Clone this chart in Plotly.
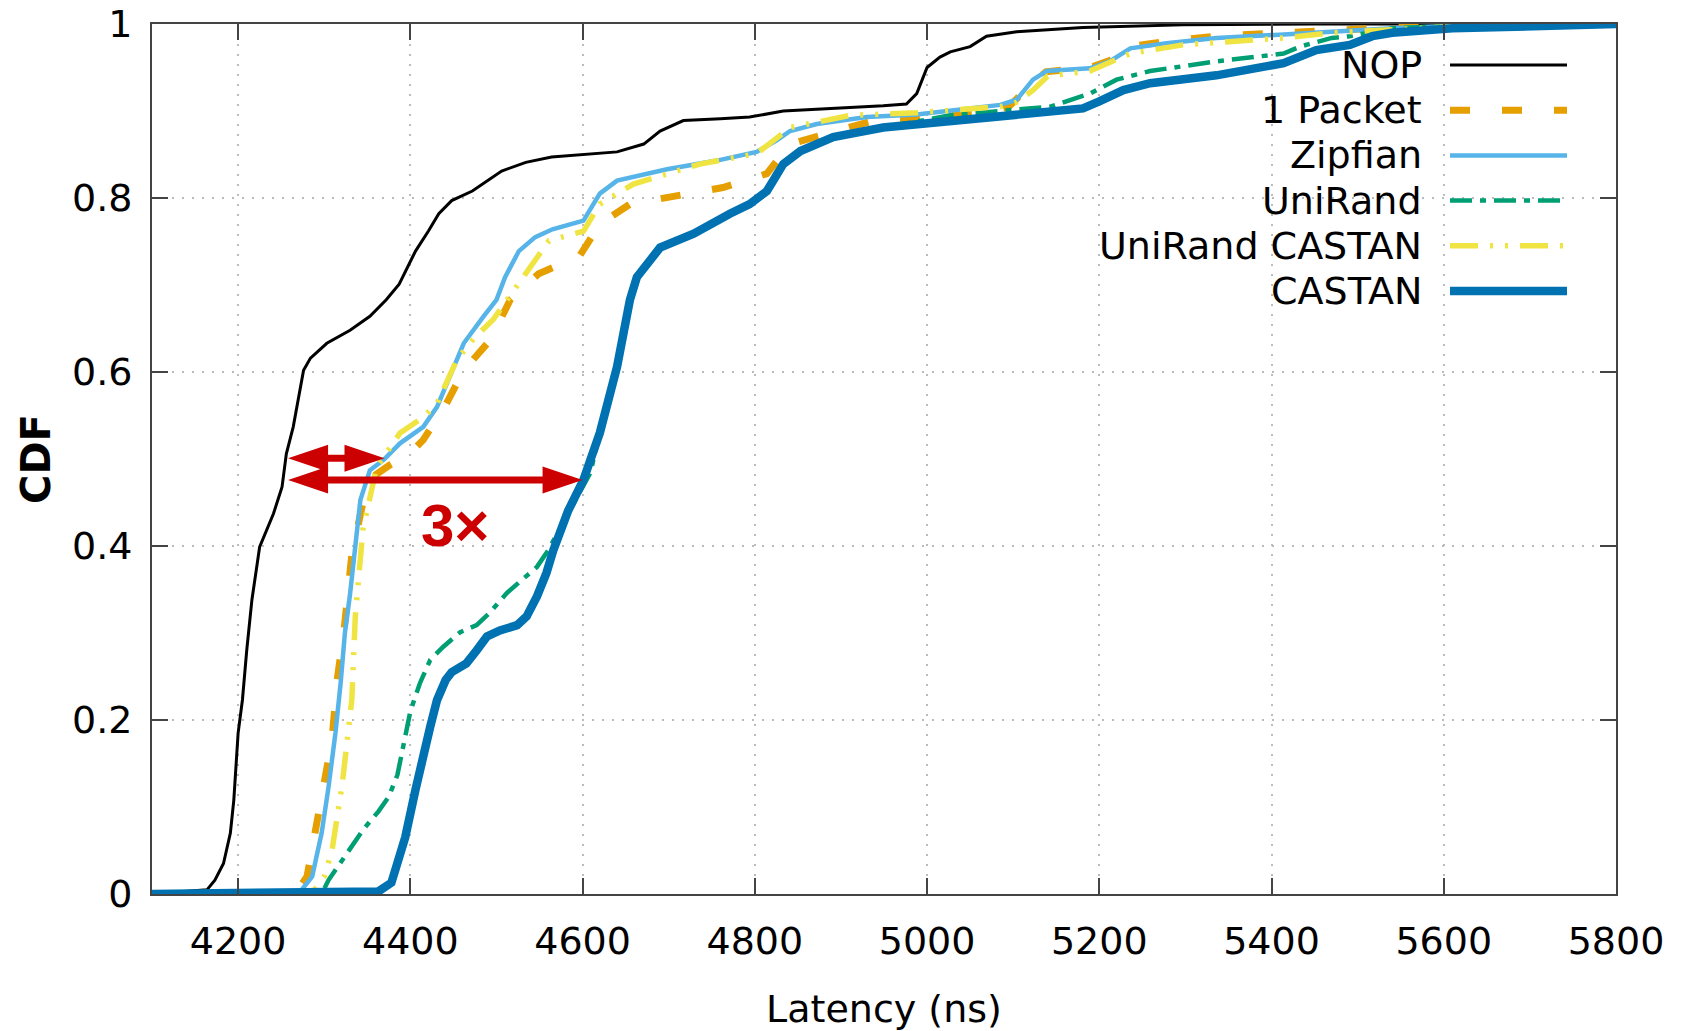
import plotly.graph_objects as go

# ---------------- data ----------------
series_names = ["NOP", "1 Packet", "Zipfian", "UniRand", "UniRand CASTAN", "CASTAN"]

nop_x = [4100, 4164, 4173, 4183, 4191, 4195, 4200, 4205, 4210, 4216, 4225, 4241, 4251, 4256,
         4264, 4272, 4276, 4284, 4303, 4330, 4353, 4372, 4387, 4406, 4421, 4433, 4448, 4472,
         4506, 4534, 4564, 4640, 4671, 4690, 4717, 4760, 4794, 4833, 4900, 4949, 4976, 4988,
         5000, 5015, 5027, 5050, 5069, 5104, 5181, 5297, 5450, 5800]
nop_y = [0, 0.005, 0.016, 0.035, 0.07, 0.108, 0.185, 0.223, 0.28, 0.338, 0.399, 0.437, 0.468, 0.506,
         0.537, 0.583, 0.602, 0.616, 0.633, 0.648, 0.664, 0.683, 0.701, 0.739, 0.762, 0.782, 0.797, 0.808,
         0.831, 0.841, 0.847, 0.853, 0.862, 0.877, 0.889, 0.891, 0.893, 0.900, 0.903, 0.906, 0.908, 0.92,
         0.95, 0.962, 0.968, 0.974, 0.986, 0.991, 0.996, 0.999, 1.0, 1.0]

pkt_x = [4100, 4266, 4280, 4295, 4309, 4315, 4323, 4332, 4345, 4360, 4376, 4398, 4415, 4442,
         4462, 4493, 4516, 4549, 4570, 4593, 4620, 4655, 4709, 4763, 4814, 4841, 4891, 4938,
         5007, 5060, 5095, 5115, 5138, 5189, 5212, 5236, 5278, 5336, 5414, 5491, 5540, 5610, 5800]
pkt_y = [0, 0, 0.02, 0.10, 0.177, 0.246, 0.303, 0.39, 0.45, 0.482, 0.493, 0.505, 0.522, 0.564,
         0.602, 0.637, 0.683, 0.713, 0.722, 0.728, 0.77, 0.793, 0.803, 0.812, 0.828, 0.862, 0.876, 0.889,
         0.893, 0.897, 0.905, 0.925, 0.945, 0.95, 0.958, 0.974, 0.98, 0.986, 0.99, 0.994, 0.996, 0.998, 1.0]

zipf_x = [4100, 4270, 4286, 4297, 4305, 4313, 4319, 4324, 4330, 4342, 4353, 4369, 4388, 4415,
          4431, 4446, 4462, 4485, 4500, 4510, 4526, 4545, 4565, 4601, 4620, 4640, 4698, 4756,
          4802, 4825, 4841, 4872, 4930, 4988, 5027, 5085, 5104, 5123, 5139, 5189, 5212, 5236,
          5278, 5336, 5414, 5491, 5540, 5610, 5800]
zipf_y = [0, 0, 0.02, 0.07, 0.123, 0.185, 0.242, 0.30, 0.345, 0.453, 0.487, 0.499, 0.518, 0.537,
          0.56, 0.595, 0.633, 0.664, 0.683, 0.709, 0.739, 0.755, 0.764, 0.774, 0.805, 0.82, 0.833, 0.843,
          0.853, 0.866, 0.877, 0.885, 0.893, 0.896, 0.90, 0.907, 0.913, 0.936, 0.946, 0.949, 0.957, 0.972,
          0.978, 0.984, 0.988, 0.993, 0.995, 0.998, 1.0]

uni_x = [4100, 4297, 4305, 4321, 4332, 4346, 4363, 4375, 4385, 4392, 4400, 4411, 4423, 4438,
         4458, 4477, 4492, 4512, 4531, 4547, 4560, 4585, 4609, 4620, 4640, 4655, 4663, 4690,
         4729, 4771, 4794, 4814, 4833, 4853, 4891, 4949, 5027, 5143, 5189, 5220, 5259, 5336,
         5414, 5433, 5470, 5491, 5540, 5610, 5800]
uni_y = [0, 0, 0.016, 0.039, 0.054, 0.075, 0.095, 0.112, 0.137, 0.17, 0.21, 0.242, 0.269, 0.284,
         0.301, 0.309, 0.323, 0.346, 0.363, 0.376, 0.395, 0.44, 0.484, 0.53, 0.606, 0.683, 0.709, 0.743,
         0.759, 0.782, 0.793, 0.808, 0.839, 0.854, 0.87, 0.881, 0.895, 0.905, 0.92, 0.936, 0.946, 0.957,
         0.966, 0.974, 0.984, 0.986, 0.995, 0.998, 1.0]

unic_x = [4100, 4285, 4300, 4309, 4321, 4332, 4336, 4345, 4361, 4388, 4415, 4431, 4454, 4475,
          4496, 4526, 4561, 4601, 4620, 4659, 4736, 4802, 4841, 4911, 4988, 5085, 5104, 5123,
          5140, 5189, 5212, 5236, 5297, 5414, 5472, 5540, 5610, 5800]
unic_y = [0, 0, 0.02, 0.05, 0.127, 0.223, 0.318, 0.42, 0.491, 0.53, 0.548, 0.564, 0.614, 0.64,
          0.66, 0.701, 0.751, 0.762, 0.793, 0.816, 0.839, 0.851, 0.881, 0.895, 0.898, 0.905, 0.91, 0.924,
          0.94, 0.946, 0.955, 0.966, 0.976, 0.984, 0.99, 0.994, 0.997, 1.0]

castan_x = [4100, 4363, 4378, 4394, 4406, 4416, 4423, 4431, 4441, 4448, 4465, 4477, 4489, 4504,
            4524, 4535, 4547, 4558, 4566, 4583, 4601, 4620, 4640, 4655, 4663, 4690, 4729, 4771,
            4794, 4814, 4833, 4853, 4891, 4949, 5027, 5104, 5181, 5200, 5228, 5259, 5336, 5414,
            5433, 5452, 5491, 5517, 5540, 5610, 5800]
castan_y = [0, 0.003, 0.013, 0.065, 0.12, 0.166, 0.192, 0.223, 0.246, 0.255, 0.265, 0.28, 0.296, 0.303,
            0.309, 0.319, 0.342, 0.369, 0.395, 0.44, 0.476, 0.53, 0.606, 0.683, 0.709, 0.743, 0.759, 0.782,
            0.793, 0.808, 0.839, 0.854, 0.87, 0.881, 0.888, 0.897, 0.903, 0.911, 0.924, 0.932, 0.941, 0.955,
            0.962, 0.97, 0.976, 0.986, 0.99, 0.995, 1.0]

x_ticks = [4200, 4400, 4600, 4800, 5000, 5200, 5400, 5600, 5800]
y_ticks = [0, 0.2, 0.4, 0.6, 0.8, 1]
y_tick_labels = ["0", "0.2", "0.4", "0.6", "0.8", "1"]

# annotation: arrows comparing median latency
arrow_start_x = [4258, 4258]
arrow_end_x = [4370, 4600]
arrow_y = [0.501, 0.476]
ratio_text = "3×"
ratio_pos = (4452, 0.423)

# ---------------- styles ----------------
colors = ["#000000", "#E69F00", "#56B4E9", "#009E73", "#F0E442", "#0072B2"]
widths = [3, 7, 4.5, 4.5, 5.5, 8.5]
dashes = ["solid", "20px,32px", "solid", "22px,8px,6px,8px", "28px,12px,3px,12px,3px,12px", "solid"]
xs = [nop_x, pkt_x, zipf_x, uni_x, unic_x, castan_x]
ys = [nop_y, pkt_y, zipf_y, uni_y, unic_y, castan_y]

W, H = 1681, 1031
ML, MR, MT, MB = 152, 65, 24, 137
XR = [4100, 5800]
YR = [0, 1]
plot_w = W - ML - MR
plot_h = H - MT - MB
ns_per_px = (XR[1] - XR[0]) / plot_w

FONT = "DejaVu Sans"
FS = 38

fig = go.Figure()
for name, x, y, c, w, d in zip(series_names, xs, ys, colors, widths, dashes):
    fig.add_trace(go.Scatter(x=x, y=y, mode="lines", name=name,
                             line=dict(color=c, width=w, dash=d),
                             showlegend=False))

shapes = []
annotations = []

# manual gnuplot-style legend (text right-aligned, sample line on its right)
leg_text_x = (1424 - ML) / plot_w
leg_l0 = (1450 - ML) / plot_w
leg_l1 = (1567 - ML) / plot_w
for i, (name, c, w, d) in enumerate(zip(series_names, colors, widths, dashes)):
    py = 65 + i * 45.2
    yp = (H - MB - py) / plot_h
    annotations.append(dict(text=name, x=leg_text_x, y=yp, xref="paper", yref="paper",
                            xanchor="right", yanchor="middle", showarrow=False,
                            font=dict(family=FONT, size=FS, color="black")))
    shapes.append(dict(type="line", xref="paper", yref="paper", x0=leg_l0, x1=leg_l1,
                       y0=yp, y1=yp, line=dict(color=c, width=w, dash=d)))

# red double-headed arrows
RED = "#CC0000"
head_len = 40
head_half = 13.5
shrink = 22 * ns_per_px
for xa, xb, ya in zip(arrow_start_x, arrow_end_x, arrow_y):
    shapes.append(dict(type="line", xref="x", yref="y", x0=xa + shrink, x1=xb - shrink,
                       y0=ya, y1=ya, line=dict(color=RED, width=7)))
    shapes.append(dict(type="path", xref="x", yref="y", xsizemode="pixel", ysizemode="pixel",
                       xanchor=xa, yanchor=ya,
                       path=f"M0,0 L{head_len},{head_half} L{head_len},{-head_half} Z",
                       fillcolor=RED, line=dict(width=0)))
    shapes.append(dict(type="path", xref="x", yref="y", xsizemode="pixel", ysizemode="pixel",
                       xanchor=xb, yanchor=ya,
                       path=f"M0,0 L{-head_len},{head_half} L{-head_len},{-head_half} Z",
                       fillcolor=RED, line=dict(width=0)))

annotations.append(dict(text=f"<b>{ratio_text}</b>", x=ratio_pos[0], y=ratio_pos[1],
                        xref="x", yref="y", showarrow=False, xanchor="center", yanchor="middle",
                        font=dict(family="Liberation Sans", size=60, color=RED)))

axis_common = dict(showline=True, linecolor="#444444", linewidth=2, mirror="ticks",
                   ticks="inside", ticklen=16, tickwidth=2, tickcolor="#444444",
                   showgrid=True, gridcolor="#bbbbbb", gridwidth=1.5, griddash="2px,8px",
                   zeroline=False, automargin=False,
                   tickfont=dict(family=FONT, size=FS, color="black"))

fig.update_layout(
    width=W, height=H,
    margin=dict(l=ML, r=MR, t=MT, b=MB, pad=0, autoexpand=False),
    paper_bgcolor="white", plot_bgcolor="white",
    xaxis=dict(range=XR, tickvals=x_ticks, ticklabelstandoff=12,
               title=dict(text="Latency (ns)", font=dict(family=FONT, size=FS, color="black"),
                          standoff=34),
               **axis_common),
    yaxis=dict(range=YR, tickvals=y_ticks, ticktext=y_tick_labels, ticklabelstandoff=10,
               title=dict(text="<b>CDF</b>", font=dict(family=FONT, size=40, color="black"),
                          standoff=9),
               **axis_common),
    shapes=shapes,
    annotations=annotations,
    showlegend=False,
)

fig.write_html("out.html")
